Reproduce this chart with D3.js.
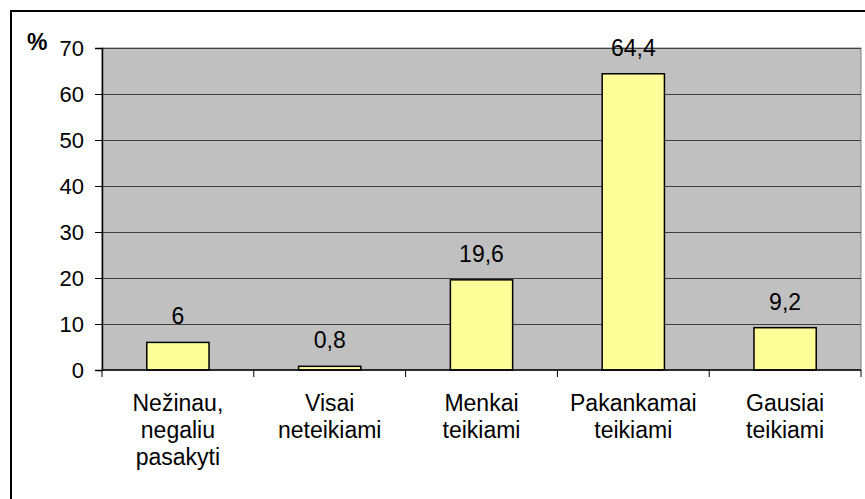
<!DOCTYPE html>
<html lang="lt">
<head>
    <meta charset="UTF-8">
    <script src="https://d3js.org/d3.v7.min.js"></script>
    <style>
        body { margin: 0; background: #fff; }
        text { font-family: "Liberation Sans", Arial, sans-serif; fill: #000; }
        .tick-label { font-size: 22px; }
        .bar-label { font-size: 23px; text-anchor: middle; }
        .cat-label { font-size: 23px; text-anchor: middle; }
    </style>
</head>
<body>
<div id="chart"></div>
<script>
// Data
const categories = [
    ["Nežinau,", "negaliu", "pasakyti"],
    ["Visai", "neteikiami"],
    ["Menkai", "teikiami"],
    ["Pakankamai", "teikiami"],
    ["Gausiai", "teikiami"]
];
const values = [6, 0.8, 19.6, 64.4, 9.2];
const valueLabels = ["6", "0,8", "19,6", "64,4", "9,2"];
const yTicks = [0, 10, 20, 30, 40, 50, 60, 70];

// Dimensions
const width = 865, height = 499;
const plot = { left: 102, right: 861, top: 48, bottom: 370 };

const svg = d3.select("#chart")
    .append("svg")
    .attr("width", width)
    .attr("height", height);

// outer frame (right/bottom edges fall outside the picture)
svg.append("rect")
    .attr("x", 11).attr("y", 11)
    .attr("width", 900).attr("height", 600)
    .attr("fill", "none")
    .attr("stroke", "#000")
    .attr("stroke-width", 2);

// Scales
const x = d3.scaleBand()
    .domain(d3.range(values.length))
    .range([plot.left, plot.right])
    .paddingInner(0.59)
    .paddingOuter(0.295);

const xOuter = d3.scaleBand()
    .domain(d3.range(values.length))
    .range([plot.left, plot.right]);

const y = d3.scaleLinear()
    .domain([0, 70])
    .range([plot.bottom, plot.top]);

// plot background
svg.append("rect")
    .attr("x", plot.left).attr("y", plot.top)
    .attr("width", plot.right - plot.left)
    .attr("height", plot.bottom - plot.top)
    .attr("fill", "#c0c0c0")
    .attr("stroke", "#808080")
    .attr("stroke-width", 1);

// gridlines
svg.append("g")
    .selectAll("line")
    .data(yTicks.filter(d => d > 0))
    .join("line")
    .attr("x1", plot.left).attr("x2", plot.right)
    .attr("y1", d => Math.round(y(d)) + 0.5)
    .attr("y2", d => Math.round(y(d)) + 0.5)
    .attr("stroke", "#404040")
    .attr("stroke-width", 1);

// Bars
svg.append("g")
    .selectAll("rect")
    .data(values)
    .join("rect")
    .attr("x", (d, i) => x(i))
    .attr("y", d => y(d))
    .attr("width", x.bandwidth())
    .attr("height", d => y(0) - y(d))
    .attr("fill", "#ffff99")
    .attr("stroke", "#000")
    .attr("stroke-width", 1.5);

// value labels
svg.append("g")
    .selectAll("text")
    .data(values)
    .join("text")
    .attr("class", "bar-label")
    .attr("x", (d, i) => x(i) + x.bandwidth() / 2)
    .attr("y", d => y(d) - 18)
    .text((d, i) => valueLabels[i]);

// Y axis
const yAxis = svg.append("g")
    .attr("transform", `translate(${plot.left},0)`)
    .call(d3.axisLeft(y).tickValues(yTicks).tickSize(7).tickPadding(11).tickFormat(d3.format("d")));
yAxis.select(".domain").attr("stroke", "#000").attr("stroke-width", 1.5);
yAxis.selectAll(".tick line").attr("stroke", "#000");
yAxis.selectAll(".tick text")
    .attr("class", "tick-label")
    .attr("font-family", null)
    .attr("font-size", null)
    .attr("dy", "0.36em");

// X axis: ticks at band boundaries
svg.append("line")
    .attr("x1", plot.left).attr("x2", plot.right)
    .attr("y1", plot.bottom).attr("y2", plot.bottom)
    .attr("stroke", "#000")
    .attr("stroke-width", 1.5);

svg.append("g")
    .selectAll("line")
    .data(d3.range(values.length + 1))
    .join("line")
    .attr("x1", i => i < values.length ? xOuter(i) : plot.right)
    .attr("x2", i => i < values.length ? xOuter(i) : plot.right)
    .attr("y1", plot.bottom).attr("y2", plot.bottom + 7)
    .attr("stroke", "#000");

// category labels
const cat = svg.append("g")
    .selectAll("text")
    .data(categories)
    .join("text")
    .attr("class", "cat-label")
    .attr("x", (d, i) => xOuter(i) + xOuter.bandwidth() / 2)
    .attr("y", 411);
cat.selectAll("tspan")
    .data(d => d)
    .join("tspan")
    .attr("x", function () { return this.parentNode.getAttribute("x"); })
    .attr("dy", (d, j) => j === 0 ? 0 : 27)
    .text(d => d);

// % label
svg.append("text")
    .attr("x", 27).attr("y", 50)
    .attr("font-size", 23)
    .attr("font-weight", "bold")
    .text("%");
</script>
</body>
</html>
